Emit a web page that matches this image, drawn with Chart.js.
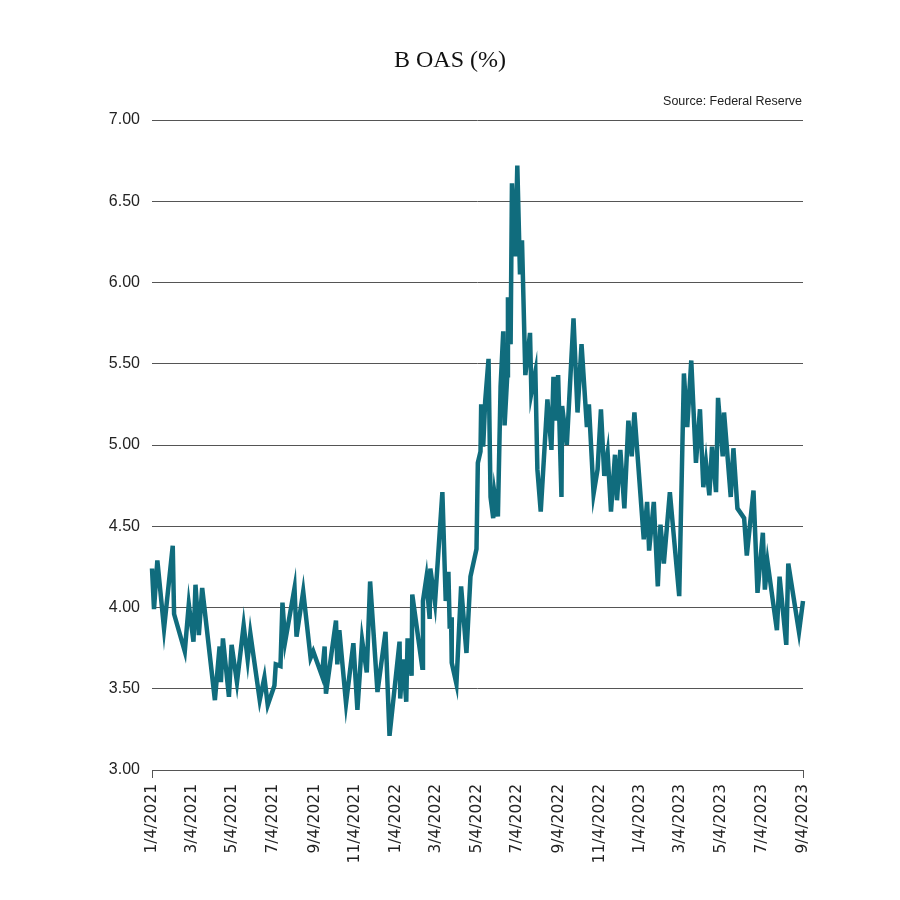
<!DOCTYPE html>
<html>
<head>
<meta charset="utf-8">
<script src="https://cdn.jsdelivr.net/npm/chart.js@4.4.1/dist/chart.umd.min.js"></script>
<style>
  html, body { margin: 0; padding: 0; background: #ffffff; }
  #wrap { width: 900px; height: 900px; }
</style>
</head>
<body>
<div id="wrap"><canvas id="c" width="900" height="900"></canvas></div>
<script>
// Days since 1/4/2021 for each observation
const dayOffsets = [0,3,8,18,31,33,49,55,62,65,70,75,94,101,103,106,115,119,127,137,143,147,161,168,173,183,185,192,195,199,213,216,226,237,241,254,258,260,275,277,280,290,301,307,314,321,326,337,349,355,370,371,375,380,382,388,389,404,405,410,415,416,423,434,439,443,445,447,448,455,462,470,476,485,487,491,492,495,498,503,506,510,512,517,521,525,527,531,532,536,538,543,546,550,553,558,565,567,573,576,581,591,597,600,603,607,612,613,620,630,636,642,650,653,660,666,671,676,681,686,692,695,700,706,712,717,721,735,740,743,750,756,760,765,774,788,795,800,806,813,819,824,828,833,837,843,846,853,855,865,869,875,885,889,899,905,913,916,920,934,938,948,951,967,973];

// B OAS (%)
const oasValues = [4.24,3.99,4.29,3.87,4.38,3.96,3.73,4.02,3.79,4.14,3.83,4.12,3.43,3.76,3.54,3.81,3.45,3.77,3.54,3.89,3.68,3.84,3.43,3.57,3.40,3.52,3.65,3.64,4.03,3.79,4.12,3.82,4.10,3.69,3.73,3.58,3.76,3.47,3.92,3.65,3.86,3.41,3.78,3.37,3.80,3.60,4.16,3.48,3.85,3.21,3.79,3.44,3.68,3.42,3.81,3.58,4.08,3.63,4.04,4.18,3.93,4.24,4.03,4.71,4.04,4.22,3.87,3.94,3.66,3.53,4.13,3.72,4.19,4.36,4.89,4.96,5.25,4.99,5.27,5.53,4.68,4.55,4.70,4.56,5.36,5.70,5.12,5.43,5.91,5.62,6.61,6.16,6.72,6.05,6.26,5.43,5.69,5.32,5.45,4.85,4.59,5.28,4.97,5.42,5.15,5.43,4.68,5.24,5.00,5.78,5.20,5.62,5.11,5.25,4.70,4.85,5.22,4.81,4.95,4.59,4.94,4.66,4.97,4.61,5.15,4.93,5.20,4.42,4.65,4.35,4.65,4.13,4.51,4.27,4.71,4.07,5.44,5.11,5.52,4.89,5.22,4.74,4.89,4.69,4.99,4.71,5.29,4.93,5.20,4.68,4.98,4.61,4.55,4.32,4.72,4.09,4.46,4.11,4.28,3.86,4.19,3.77,4.27,3.85,4.04];

const xTickLabels = ["1/4/2021","3/4/2021","5/4/2021","7/4/2021","9/4/2021","11/4/2021","1/4/2022","3/4/2022","5/4/2022","7/4/2022","9/4/2022","11/4/2022","1/4/2023","3/4/2023","5/4/2023","7/4/2023","9/4/2023"];
const yTickValues = [3.0,3.5,4.0,4.5,5.0,5.5,6.0,6.5,7.0];

const chartTitle = "B OAS (%)";
const sourceNote = "Source: Federal Reserve";

function parseMDY(s) {
  const [m, d, y] = s.split('/').map(Number);
  return Date.UTC(y, m - 1, d);
}
const startMs = parseMDY(xTickLabels[0]);
const xTickDays = xTickLabels.map(s => Math.round((parseMDY(s) - startMs) / 86400000));

const points = dayOffsets.map((d, i) => ({ x: d, y: oasValues[i] }));

const headerPlugin = {
  id: 'header',
  afterDraw(chart) {
    const ctx = chart.ctx;
    const area = chart.chartArea;
    ctx.save();
    ctx.fillStyle = '#111111';
    ctx.font = '24px "Liberation Serif"';
    ctx.textAlign = 'center';
    ctx.textBaseline = 'alphabetic';
    ctx.fillText(chartTitle, 450, 67);
    ctx.font = '12.5px "Liberation Sans"';
    ctx.fillStyle = '#222222';
    ctx.textAlign = 'right';
    ctx.fillText(sourceNote, area.right - 1, 105);
    ctx.restore();
  }
};

new Chart(document.getElementById('c'), {
  type: 'line',
  data: {
    datasets: [{
      data: points,
      borderColor: '#106c7d',
      borderWidth: 4.5,
      pointRadius: 0,
      tension: 0,
      fill: false,
      clip: 6,
      borderJoinStyle: 'miter'
    }]
  },
  options: {
    responsive: false,
    animation: false,
    devicePixelRatio: 1,
    layout: { padding: { left: 0, right: 97, top: 120, bottom: 0 } },
    plugins: {
      legend: { display: false },
      title: { display: false },
      tooltip: { enabled: false }
    },
    scales: {
      x: {
        type: 'linear',
        min: xTickDays[0],
        max: xTickDays[xTickDays.length - 1],
        afterBuildTicks(scale) {
          scale.ticks = xTickDays.map(v => ({ value: v }));
        },
        afterFit(scale) { scale.height = 130; },
        ticks: {
          autoSkip: false,
          maxRotation: 90,
          minRotation: 90,
          padding: 6,
          color: '#222222',
          font: { family: '"DejaVu Sans"', size: 15.5 },
          callback: (value, index) => xTickLabels[index]
        },
        grid: {
          drawOnChartArea: false,
          drawTicks: true,
          tickLength: 8,
          lineWidth: 1,
          color: (ctx) => (ctx.index === 0 || ctx.index === xTickDays.length - 1) ? '#555555' : 'rgba(0,0,0,0)'
        },
        border: { display: true, color: '#555555', width: 1 }
      },
      y: {
        min: 3,
        max: 7,
        afterBuildTicks(scale) {
          scale.ticks = yTickValues.map(v => ({ value: v }));
        },
        afterFit(scale) { scale.width = 152; },
        ticks: {
          padding: 12,
          color: '#222222',
          font: { family: '"Liberation Sans"', size: 16 },
          callback: (v) => Number(v).toFixed(2)
        },
        grid: {
          color: '#555555',
          lineWidth: 1,
          drawTicks: false
        },
        border: { display: false }
      }
    }
  },
  plugins: [headerPlugin]
});
</script>
</body>
</html>
